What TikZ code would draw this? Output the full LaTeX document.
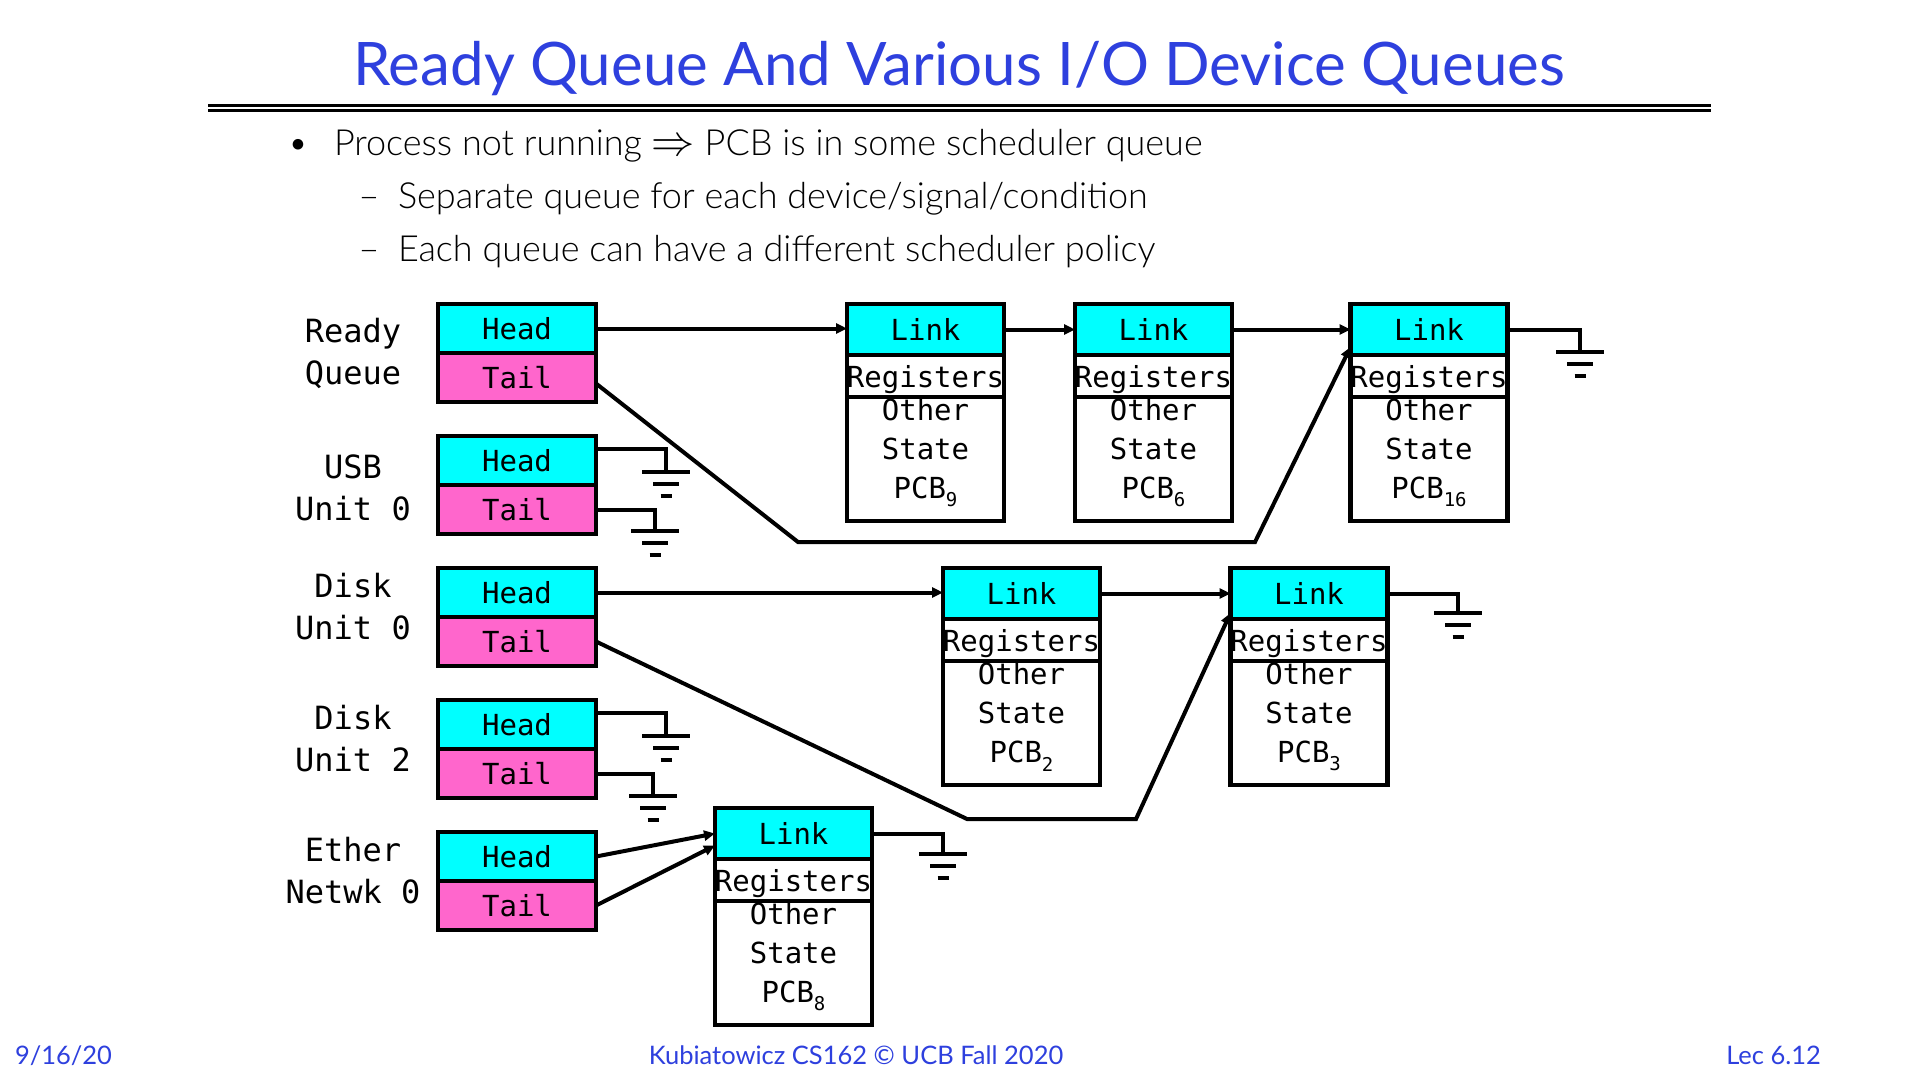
\documentclass[tikz,border=0pt]{standalone}
\usepackage{fix-cm}
\usepackage{fontspec}
\setmainfont{Lato}
\newfontfamily\lightf{Lato Light}
\newfontfamily\monof{DejaVu Sans Mono}
\usetikzlibrary{arrows.meta,calc}
\definecolor{titleblue}{RGB}{46,64,222}
\definecolor{headcyan}{RGB}{0,255,255}
\definecolor{tailpink}{RGB}{255,102,204}
\newcommand\pcbsub[1]{\raisebox{-0.28em}{\fontsize{19}{19}\selectfont #1}}

\begin{document}
\begin{tikzpicture}[x=1pt,y=-1pt,
  every node/.style={inner sep=0pt,outer sep=0pt},
  boxtext/.style={font={\monof\fontsize{29}{39}\selectfont}},
  qhead/.style={boxtext,draw,line width=4.5pt,fill=headcyan,minimum width=158pt,minimum height=49pt},
  qtail/.style={qhead,fill=tailpink},
  plink/.style={boxtext,draw,line width=4.5pt,fill=headcyan,minimum width=157pt,minimum height=51pt},
  preg/.style={boxtext,draw,line width=4.5pt,fill=white,minimum width=157pt,minimum height=42pt},
  pbody/.style={draw,line width=4.5pt,fill=white,minimum width=157pt,minimum height=124pt},
  ptext/.style={boxtext,align=center},
  qlabel/.style={font={\monof\fontsize{32}{42}\selectfont},align=center},
  wire/.style={line width=4pt},
  arr/.style={wire,-{Triangle[length=11pt,width=10pt]}},
  gnd/.pic={\draw[line width=4pt] (-24,0)--(24,0) (-13,12)--(13,12) (-5.5,24)--(5.5,24);},
  slide/.style={font={\lightf\fontsize{36}{36}\selectfont}},
  foot/.style={text=titleblue,font={\fontsize{25.5}{25.5}\selectfont}}
]
\fill[white] (0,0) rectangle (1920,1080);
\path[use as bounding box] (0,0) rectangle (1920,1080);

% title and rules
\node[anchor=base,text=titleblue,font={\fontsize{60}{60}\selectfont}] (title) at (959,85)
  {Ready Queue And Various I/O Device Queues};
\draw[line width=2.6pt] (208,105.3) -- (1711,105.3) (208,110.4) -- (1711,110.4);

% bullet list
\node[slide,anchor=base] (dot1) at (298,155) {\textbullet};
\node[slide,anchor=base west] (bl1) at (334,155)
  {Process not running \scalebox{1.2}{$\Rightarrow$} PCB is in some scheduler queue};
\node[slide,anchor=base] (dash1) at (369,208) {–};
\node[slide,anchor=base west] (bl2) at (398,208) {Separate queue for each device/signal/condition};
\node[slide,anchor=base] (dash2) at (369,261) {–};
\node[slide,anchor=base west] (bl3) at (398,261) {Each queue can have a different scheduler policy};

% queue headers
\foreach \nm/\top/\lab/\dy in {r/304/{Ready\\Queue}/0, u/436/{USB\\Unit 0}/2.5, d/568/{Disk\\Unit 0}/-10,
                               e/700/{Disk\\Unit 2}/-10, n/832/{Ether\\Netwk 0}/-10}{
  \node[qhead] (\nm h) at (517,\top+24.5) {Head};
  \node[qtail] (\nm t) at (517,\top+73.5) {Tail};
  \node[qlabel] (\nm lab) at (353,\top+49+\dy) {\lab};
}

% process control blocks
\foreach \nm/\x/\top/\num in {p9/925.5/304/9, p6/1153.5/304/6, p16/1429/304/16,
                              p2/1021.5/568/2, p3/1309/568/3, p8/793.5/808/8}{
  \node[plink] (\nm l) at (\x,\top+25.5) {Link};
  \node[pbody] (\nm b) at (\x,\top+155) {};
  \node[preg] (\nm r) at (\x,\top+72) {\raisebox{-4pt}[\height][\depth]{Registers}};
  \node[ptext] (\nm t) at (\x,\top+149) {Other\\State\\PCB\pcbsub{\num}};
}

% ready queue
\draw[arr] (rh.east) -- (rh.east -| p9l.west);
\draw[arr] (p9l.east) -- (p6l.west);
\draw[arr] (p6l.east) -- (p16l.west);
\coordinate (rb1) at (798,542);
\coordinate (rb2) at (1255,542);
\draw[arr] ($(rt.east)+(0,6)$) -- (rb1) -- (rb2) -- ($(p16l.south west)+(0,-8)$);

% disk unit 0
\draw[arr] (dh.east) -- (dh.east -| p2l.west);
\draw[arr] (p2l.east) -- (p3l.west);
\coordinate (db1) at (967,819);
\coordinate (db2) at (1136,819);
\draw[arr] (dt.east) -- (db1) -- (db2) -- ($(p3l.south west)+(0,-6)$);

% ethernet
\draw[arr] (nh.east) -- (p8l.west);
\draw[arr] (nt.east) -- ($(p8l.west)+(0,12)$);

% null pointers
\coordinate (g16) at (1580,352);
\coordinate (g3) at (1458,613);
\coordinate (g8) at (943,854);
\coordinate (guh) at (666,472);
\coordinate (gut) at (655,531);
\coordinate (geh) at (666,736);
\coordinate (get) at (653,796);
\draw[wire] (p16l.east) -| (g16);
\draw[wire] (p3l.east) -| (g3);
\draw[wire] (p8l.east) -| (g8);
\draw[wire] ($(uh.east)+(0,-12)$) -| (guh);
\draw[wire] (ut.east) -| (gut);
\draw[wire] ($(eh.east)+(0,-12)$) -| (geh);
\draw[wire] (et.east) -| (get);
\foreach \g in {g16,g3,g8,guh,gut,geh,get} \pic at (\g) {gnd};

% footer
\node[foot,anchor=base west] (fdate) at (15,1064) {9/16/20};
\node[foot,anchor=base] (fmid) at (856,1064) {Kubiatowicz CS162 © UCB Fall 2020};
\node[foot,anchor=base east] (flec) at (1821,1064) {Lec 6.12};
\end{tikzpicture}
\end{document}
